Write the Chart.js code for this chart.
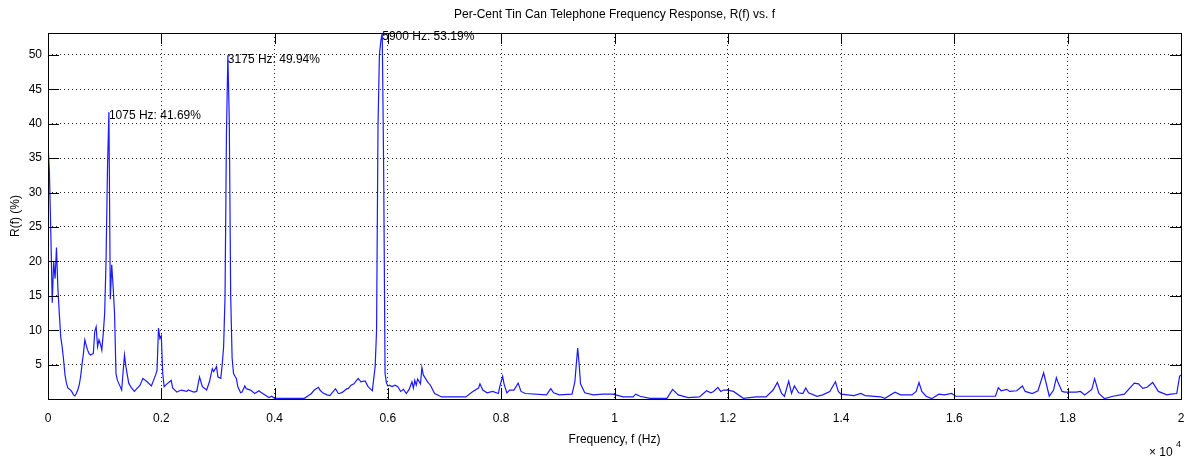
<!DOCTYPE html>
<html>
<head>
<meta charset="utf-8">
<script src="https://cdn.jsdelivr.net/npm/chart.js@4/dist/chart.umd.min.js"></script>
<style>
  html, body { margin: 0; padding: 0; background: #fff; }
  #wrap { width: 1186px; height: 460px; position: relative; }
</style>
</head>
<body>
<div id="wrap"><canvas id="chart"></canvas></div>
<script>
// Frequency (Hz) and per-cent response
const freqHz = [
  0, 25, 50, 75, 100, 125, 150, 175, 200, 225, 250, 275, 300, 325, 350, 400, 425, 450, 475, 500,
  525, 550, 575, 600, 625, 650, 675, 700, 725, 750, 775, 800, 825, 850, 875, 900, 925, 950, 975, 1000,
  1025, 1050, 1075, 1100, 1125, 1150, 1175, 1200, 1225, 1275, 1300, 1350, 1375, 1425, 1475, 1525, 1625, 1675, 1750, 1825,
  1900, 1925, 1950, 1975, 2000, 2025, 2050, 2100, 2175, 2200, 2275, 2350, 2450, 2475, 2575, 2625, 2675, 2725, 2800, 2850,
  2900, 2925, 2975, 3000, 3050, 3075, 3100, 3125, 3150, 3175, 3200, 3225, 3250, 3275, 3300, 3325, 3350, 3400, 3425, 3475,
  3500, 3575, 3650, 3725, 3750, 3825, 3900, 3950, 4000, 4525, 4600, 4650, 4700, 4775, 4800, 4850, 4925, 4975, 5025, 5075,
  5125, 5150, 5200, 5275, 5300, 5350, 5400, 5475, 5525, 5575, 5600, 5650, 5700, 5725, 5775, 5800, 5825, 5850, 5875, 5900,
  5925, 5950, 5975, 6000, 6025, 6075, 6125, 6175, 6225, 6275, 6325, 6375, 6425, 6450, 6475, 6500, 6525, 6575, 6600, 6625,
  6700, 6750, 6825, 6950, 7375, 7500, 7600, 7625, 7675, 7750, 7850, 7950, 7975, 8025, 8050, 8100, 8150, 8225, 8300, 8350,
  8425, 8800, 8875, 8925, 9025, 9250, 9300, 9350, 9375, 9400, 9475, 9625, 9800, 9975, 10150, 10325, 10375, 10450, 10625, 10925,
  11025, 11125, 11300, 11500, 11625, 11700, 11750, 11825, 11875, 11925, 12000, 12100, 12275, 12500, 12675, 12800, 12875, 12950, 13000, 13075,
  13125, 13175, 13250, 13325, 13375, 13425, 13575, 13675, 13800, 13900, 13950, 14000, 14225, 14350, 14425, 14700, 14775, 14950, 15050, 15250,
  15325, 15375, 15425, 15500, 15600, 15725, 15825, 15950, 16025, 16350, 16725, 16775, 16825, 16925, 16975, 17100, 17200, 17250, 17375, 17475,
  17575, 17675, 17750, 17800, 17825, 17900, 17950, 18150, 18225, 18300, 18425, 18475, 18550, 18650, 18800, 19000, 19175, 19250, 19325, 19400,
  19500, 19600, 19750, 19825, 19925, 19975, 20000
];
const responsePct = [
  37, 33, 24, 14, 20, 17.5, 22, 16, 12.4, 9, 7.6, 5.7, 3.5, 2.3, 1.6, 1.3, 1.0, 0.6, 0.45, 0.8,
  1.3, 2.0, 3.2, 5.0, 6.6, 8.6, 7.8, 7.1, 6.6, 6.4, 6.5, 6.6, 9.8, 10.5, 7.6, 8.6, 8.0, 7.1, 9.5, 12.4,
  20.2, 33.5, 41.69, 14.5, 19.5, 16.3, 12.4, 3.7, 2.7, 1.8, 1.3, 6.4, 4.7, 2.3, 1.6, 1.1, 2.0, 3.0, 2.5, 1.9,
  3.5, 4.2, 10.3, 8.8, 9.2, 3.7, 1.8, 2.2, 2.7, 1.6, 1.0, 1.3, 1.1, 1.3, 1.0, 1.1, 3.2, 1.8, 1.3, 2.5,
  4.4, 4.0, 4.7, 3.2, 3.0, 5.0, 7.6, 14.9, 38.6, 49.94, 40.5, 14.9, 6.0, 3.7, 3.3, 3.0, 1.8, 0.9, 1.0, 1.9,
  1.5, 1.3, 0.8, 1.2, 1.0, 0.6, 0.2, 0.4, 0.1, 0.1, 0.5, 0.8, 1.3, 1.7, 1.3, 0.9, 0.6, 0.5, 1.0, 1.5,
  0.8, 0.8, 1.0, 1.5, 1.5, 2.0, 2.2, 3.0, 2.5, 2.6, 2.6, 1.8, 1.4, 1.2, 4.7, 10, 39.5, 50, 52, 53.19,
  33.5, 3.7, 2.3, 1.9, 2.0, 1.8, 2.0, 1.8, 1.1, 1.4, 0.8, 1.4, 2.5, 1.6, 2.7, 2.0, 2.9, 2.2, 4.6, 3.5,
  2.5, 2.0, 0.8, 0.3, 0.3, 1.1, 1.6, 2.2, 1.3, 0.9, 1.1, 0.8, 1.8, 3.3, 2.2, 0.9, 1.3, 1.3, 2.3, 1.1,
  0.8, 0.6, 1.5, 0.9, 0.6, 0.7, 2.5, 7.4, 5.2, 2.2, 0.9, 0.6, 0.7, 0.7, 0.3, 0.3, 0.7, 0.4, 0.1, 0.1,
  1.4, 0.6, 0.2, 0.3, 1.2, 0.9, 1.1, 1.7, 1.1, 1.3, 1.3, 1.1, 0.1, 0.3, 0.3, 1.3, 2.4, 0.8, 0.4, 2.6,
  0.8, 1.9, 0.9, 0.8, 1.6, 0.9, 0.4, 0.6, 1.1, 2.5, 1.1, 0.7, 0.5, 0.8, 0.5, 0.3, 0.1, 1.0, 0.6, 0.6,
  1.1, 2.4, 1.1, 0.4, 0.05, 0.7, 0.6, 0.8, 0.4, 0.4, 0.4, 1.65, 1.2, 1.4, 1.1, 1.2, 1.9, 1.1, 0.8, 1.2,
  3.8, 0.4, 1.3, 3.1, 2.5, 1.1, 1.0, 1.0, 1.1, 0.6, 1.4, 2.95, 0.8, 0.05, 0.4, 0.7, 2.3, 2.2, 1.55, 1.7,
  2.4, 1.1, 0.6, 0.7, 0.8, 3.3, 3.5
];

// Labelled peaks
const peakFreq = [1075, 3175, 5900];
const peakPct = [41.69, 49.94, 53.19];

// Axis ticks
const xTickStep = 2000;
const yTickStep = 5;

const FONT = '"Liberation Sans", Arial, Helvetica, sans-serif';

// Draws box, inward ticks, peak labels and the titles (MATLAB style)
const matlabAxes = {
  id: 'matlabAxes',
  afterDraw(chart) {
    const ctx = chart.ctx;
    const a = chart.chartArea;
    const xs = chart.scales.x, ys = chart.scales.y;
    ctx.save();
    ctx.strokeStyle = '#000';
    ctx.lineWidth = 1;
    ctx.strokeRect(Math.round(a.left) + 0.5, Math.round(a.top) + 0.5,
                   Math.round(a.right - a.left), Math.round(a.bottom - a.top));

    ctx.beginPath();
    xs.ticks.forEach(t => {
      const px = Math.round(xs.getPixelForValue(t.value)) + 0.5;
      ctx.moveTo(px, a.bottom); ctx.lineTo(px, a.bottom - 11);
      ctx.moveTo(px, a.top); ctx.lineTo(px, a.top + 11);
    });
    ys.ticks.forEach(t => {
      const py = Math.round(ys.getPixelForValue(t.value)) + 0.5;
      ctx.moveTo(a.left, py); ctx.lineTo(a.left + 11, py);
      ctx.moveTo(a.right, py); ctx.lineTo(a.right - 11, py);
    });
    ctx.stroke();

    // peak labels
    ctx.fillStyle = '#000';
    ctx.font = '12px ' + FONT;
    ctx.textAlign = 'left';
    ctx.textBaseline = 'middle';
    peakFreq.forEach((f, i) => {
      const px = xs.getPixelForValue(f);
      const py = ys.getPixelForValue(peakPct[i]);
      ctx.fillText(f + ' Hz: ' + peakPct[i].toFixed(2) + '%', px, py + 4);
    });

    // titles
    ctx.textAlign = 'center';
    ctx.fillText('Per-Cent Tin Can Telephone Frequency Response, R(f) vs. f', (a.left + a.right) / 2, 15);
    ctx.fillText('Frequency, f (Hz)', (a.left + a.right) / 2, 440);
    ctx.save();
    ctx.translate(16, (a.top + a.bottom) / 2);
    ctx.rotate(-Math.PI / 2);
    ctx.fillText('R(f) (%)', 0, 0);
    ctx.restore();

    // exponent
    ctx.textAlign = 'left';
    ctx.fillText('\u00d7 10', 1149, 453);
    ctx.font = '9px ' + FONT;
    ctx.fillText('4', 1176, 445);
    ctx.restore();
  }
};

document.addEventListener('DOMContentLoaded', function() {
  const points = freqHz.map((f, i) => ({ x: f, y: responsePct[i] }));

  new Chart(document.getElementById('chart').getContext('2d'), {
    type: 'line',
    data: {
      datasets: [{
        data: points,
        borderColor: '#1a1aff',
        borderWidth: 1.2,
        pointRadius: 0,
        tension: 0,
        fill: false
      }]
    },
    options: {
      responsive: true,
      maintainAspectRatio: false,
      animation: false,
      layout: { padding: { top: 33, right: 5, left: 0, bottom: 0 } },
      plugins: { legend: { display: false }, tooltip: { enabled: false } },
      scales: {
        x: {
          type: 'linear',
          min: 0, max: 20000,
          afterBuildTicks: s => { s.ticks = s.ticks.filter(t => t.value % xTickStep === 0); },
          afterFit: s => { s.height = 61; s.paddingLeft = 0; s.paddingRight = 0; },
          ticks: {
            stepSize: xTickStep,
            padding: 12,
            color: '#000',
            font: { family: FONT, size: 12 },
            maxRotation: 0,
            callback: v => String(Math.round(v / 1000) / 10)
          },
          grid: { color: '#222', lineWidth: 1, drawTicks: false, borderDash: [1, 3] },
          border: { display: false, dash: [1, 3] }
        },
        y: {
          min: 0, max: 53.19,
          afterBuildTicks: s => { s.ticks = s.ticks.filter(t => t.value % yTickStep === 0); },
          afterFit: s => { s.width = 48; s.paddingTop = 0; s.paddingBottom = 0; },
          ticks: {
            stepSize: yTickStep,
            padding: 6,
            color: '#000',
            font: { family: FONT, size: 12 },
            callback: v => (v === 0 ? '' : String(v))
          },
          grid: { color: '#222', lineWidth: 1, drawTicks: false, borderDash: [1, 3] },
          border: { display: false, dash: [1, 3] }
        }
      }
    },
    plugins: [matlabAxes]
  });
});
</script>
</body>
</html>
